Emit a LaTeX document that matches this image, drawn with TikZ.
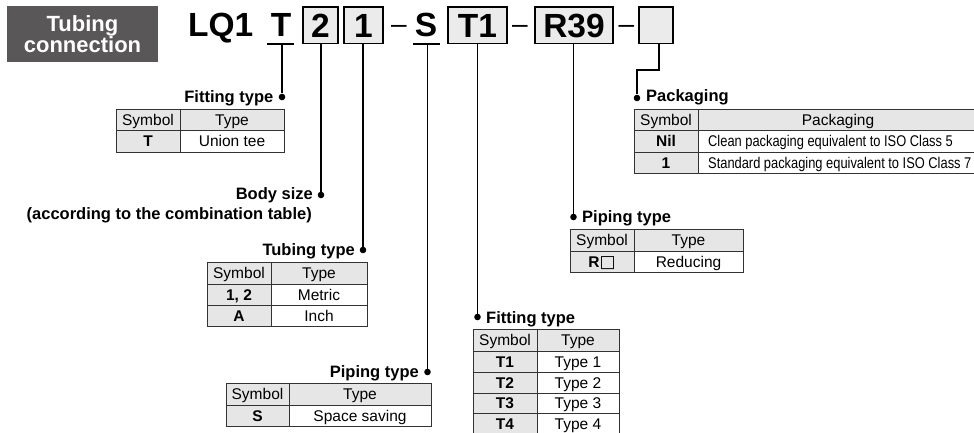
\documentclass[tikz,border=0pt]{standalone}
\usepackage{fontspec}
\setmainfont{Liberation Sans}
\newfontfamily\condfont[FakeStretch=0.83]{Liberation Sans}
\newfontfamily\symfont{DejaVu Sans}
\usetikzlibrary{calc}
\definecolor{cellgray}{RGB}{230,230,230}
\definecolor{boxgray}{RGB}{235,235,235}
\definecolor{darkbox}{RGB}{89,87,87}
\definecolor{tline}{RGB}{50,50,50}
\tikzset{
  tc/.style={draw=tline, line width=0.9pt, inner sep=0pt, outer sep=0pt,
    text height=11.5pt, text depth=0.5pt, font=\fontsize{15.5}{17}\selectfont},
  hbox/.style={draw=black, line width=1.1pt, fill=boxgray, inner sep=0pt, outer sep=0pt,
    text height=24pt, text depth=0pt, font=\fontsize{33.5}{36}\bfseries, anchor=north west},
  htxt/.style={inner sep=0pt, font=\fontsize{33.5}{36}\bfseries, anchor=base},
  dashst/.style={inner sep=0pt, font=\fontsize{28}{30}\selectfont, anchor=base},
  lbl/.style={inner sep=0pt, font=\fontsize{16.5}{18}\bfseries},
  ptext/.style={inner sep=0pt, font=\condfont\fontsize{15.5}{17}\selectfont, anchor=base west},
  dotst/.style={circle, fill=black, inner sep=0pt, minimum size=6.6pt},
  lead/.style={line width=1.3pt, black},
  uline/.style={line width=1.3pt, black}
}
\newcommand\tcell[7]{\node[tc, fill=#6, minimum width={(#4)-(#2)}, minimum height={(#5)-(#3)}, anchor=north west] (#1) at (#2,#3) {#7};}
\begin{document}
\begin{tikzpicture}[x=1pt,y=-1pt]
\useasboundingbox (0,0) rectangle (974,433);
% title box
\node[fill=darkbox, text=white, minimum width=151pt, minimum height=56pt, inner sep=0pt,
  align=center, font=\fontsize{22}{21}\bfseries] (title) at (82.5,34.5) {Tubing\\connection};
% code
\node[htxt, anchor=base west] (lq) at (188,37) {LQ1};
\node[htxt] (hT) at (281,37) {T};
\coordinate (uTa) at (267,44); \coordinate (uTb) at (294,44);
\draw[uline] (uTa) -- (uTb);
\node[hbox, minimum width=35pt, minimum height=36.5pt] (b2) at (303,7) {2};
\node[hbox, minimum width=39pt, minimum height=36.5pt] (b1) at (344,7) {1};
\node[dashst] (m1) at (399,33.5) {–};
\node[htxt] (hS) at (426,37) {S};
\coordinate (uSa) at (413,44); \coordinate (uSb) at (440,44);
\draw[uline] (uSa) -- (uSb);
\node[hbox, minimum width=59pt, minimum height=36.5pt] (bT1) at (448,7) {T1};
\node[dashst] (m2) at (520,33.5) {–};
\node[hbox, minimum width=78pt, minimum height=36.5pt] (bR) at (535,7) {R39};
\node[dashst] (m3) at (626.5,33.5) {–};
\node[hbox, minimum width=34pt, minimum height=36.5pt] (bP) at (639,7) {};
% dots
\node[dotst] (dT) at (282,97) {};
\node[dotst] (d2) at (321,195) {};
\node[dotst] (d1) at (363,250) {};
\node[dotst] (dS) at (427.5,372) {};
\node[dotst] (dT1) at (477.5,317) {};
\node[dotst] (dR) at (573.5,217) {};
\node[dotst] (dP) at (637,98) {};
% leaders
\coordinate (uTm) at (282,44);
\coordinate (uSm) at (427.5,44);
\draw[lead] (uTm) -- (dT);
\draw[lead] (d2 |- b2.south) -- (d2);
\draw[lead] (d1 |- b1.south) -- (d1);
\draw[lead] (uSm) -- (dS);
\draw[lead] (dT1 |- bT1.south) -- (dT1);
\draw[lead] (dR |- bR.south) -- (dR);
\coordinate (kP) at (659,70);
\draw[lead] (kP |- bP.south) -- (kP) -| (dP);
% labels
\node[lbl, anchor=base east] (lT) at (273.5,103) {Fitting type};
\node[lbl, anchor=base east] (l2) at (313,199) {Body size};
\node[lbl, anchor=base east] (l2b) at (312,219) {(according to the combination table)};
\node[lbl, anchor=base east] (l1) at (355,255) {Tubing type};
\node[lbl, anchor=base east] (lS) at (419,377) {Piping type};
\node[lbl, anchor=base west] (lT1) at (486,323) {Fitting type};
\node[lbl, anchor=base west] (lR) at (582,222) {Piping type};
\node[lbl, anchor=base west] (lP) at (646,102) {Packaging};
% table A
\tcell{ah1}{116}{109}{180}{130}{cellgray}{Symbol}
\tcell{ah2}{180}{109}{284}{130}{cellgray}{Type}
\tcell{ar1}{116}{130}{180}{152}{cellgray}{\bfseries T}
\tcell{ar2}{180}{130}{284}{152}{white}{Union tee}
% table B
\tcell{bh1}{207}{262}{271}{284}{cellgray}{Symbol}
\tcell{bh2}{271}{262}{367}{284}{cellgray}{Type}
\tcell{br1}{207}{284}{271}{305}{cellgray}{\bfseries 1, 2}
\tcell{br2}{271}{284}{367}{305}{white}{Metric}
\tcell{bs1}{207}{305}{271}{326}{cellgray}{\bfseries A}
\tcell{bs2}{271}{305}{367}{326}{white}{Inch}
% table C
\tcell{ch1}{226}{383}{289}{405}{cellgray}{Symbol}
\tcell{ch2}{289}{383}{431}{405}{cellgray}{Type}
\tcell{cr1}{226}{405}{289}{426}{cellgray}{\bfseries S}
\tcell{cr2}{289}{405}{431}{426}{white}{Space saving}
% table D
\tcell{dh1}{473}{329}{537}{351}{cellgray}{Symbol}
\tcell{dh2}{537}{329}{619}{351}{cellgray}{Type}
\tcell{dr1}{473}{351}{537}{372}{cellgray}{\bfseries T1}
\tcell{dr2}{537}{351}{619}{372}{white}{Type 1}
\tcell{ds1}{473}{372}{537}{393}{cellgray}{\bfseries T2}
\tcell{ds2}{537}{372}{619}{393}{white}{Type 2}
\tcell{dt1}{473}{393}{537}{413}{cellgray}{\bfseries T3}
\tcell{dt2}{537}{393}{619}{413}{white}{Type 3}
\tcell{du1}{473}{413}{537}{434}{cellgray}{\bfseries T4}
\tcell{du2}{537}{413}{619}{434}{white}{Type 4}
% table E
\tcell{eh1}{570}{229}{634}{251}{cellgray}{Symbol}
\tcell{eh2}{634}{229}{743}{251}{cellgray}{Type}
\tcell{er1}{570}{251}{634}{272}{cellgray}{\bfseries R{\symfont\fontsize{17}{17}\selectfont □}}
\tcell{er2}{634}{251}{743}{272}{white}{Reducing}
% table F
\tcell{fh1}{634}{109}{698}{130}{cellgray}{Symbol}
\tcell{fh2}{698}{109}{978}{130}{cellgray}{Packaging}
\tcell{fr1}{634}{130}{698}{152}{cellgray}{\bfseries Nil}
\tcell{fr2}{698}{130}{978}{152}{white}{}
\tcell{fs1}{634}{152}{698}{173}{cellgray}{\bfseries 1}
\tcell{fs2}{698}{152}{978}{173}{white}{}
\node[ptext] (fr2t) at (708,146.5) {Clean packaging equivalent to ISO Class 5};
\node[ptext] (fs2t) at (708,168) {Standard packaging equivalent to ISO Class 7};
\end{tikzpicture}
\end{document}
